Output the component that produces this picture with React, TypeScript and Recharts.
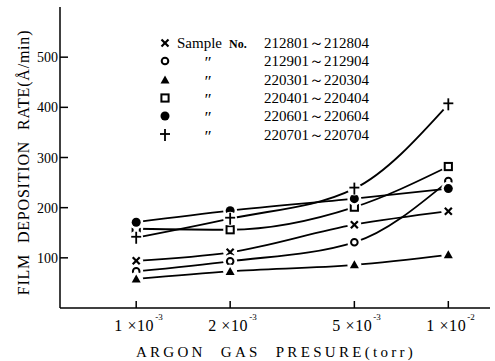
import React from 'react';
import { LineChart, Line, XAxis, YAxis, Legend, Label } from 'recharts';

const pressures = [0.001, 0.002, 0.005, 0.01];
const xTicks = [0.001, 0.002, 0.005, 0.01];
const xTickMantissa = ['1', '2', '5', '1'];
const xTickExponent = ['-3', '-3', '-3', '-2'];
const yTicks = [100, 200, 300, 400, 500];

const s212801 = [94, 111, 166, 193];
const s212901 = [73, 93, 131, 253];
const s220301 = [58, 73, 86, 106];
const s220401 = [158, 156, 201, 282];
const s220601 = [171, 194, 218, 238];
const s220701 = [140, 178, 238, 406];

const seriesKeys = ['s212801', 's212901', 's220301', 's220401', 's220601', 's220701'];
const seriesValues = [s212801, s212901, s220301, s220401, s220601, s220701];
const seriesLabels = [
  '212801～212804',
  '212901～212904',
  '220301～220304',
  '220401～220404',
  '220601～220604',
  '220701～220704',
];
const seriesMarkers = ['cross', 'circle', 'triangle', 'square', 'dot', 'plus'];

const data = pressures.map((p, i) => {
  const row: Record<string, number> = { p };
  seriesKeys.forEach((k, j) => {
    row[k] = seriesValues[j][i];
  });
  return row;
});

const FONT = "'Liberation Serif', 'Times New Roman', 'DejaVu Serif', serif";
const txt = (size: number, extra: React.CSSProperties = {}): React.CSSProperties => ({
  fontFamily: FONT,
  fontSize: size,
  fill: '#000',
  ...extra,
});

function Marker({ kind, cx, cy }: { kind: string; cx: number; cy: number }) {
  switch (kind) {
    case 'cross':
      return (
        <g stroke="#000" strokeWidth={2.2}>
          <line x1={cx - 3.5} y1={cy - 3.5} x2={cx + 3.5} y2={cy + 3.5} />
          <line x1={cx - 3.5} y1={cy + 3.5} x2={cx + 3.5} y2={cy - 3.5} />
        </g>
      );
    case 'circle':
      return <circle cx={cx} cy={cy} r={3.3} fill="#fff" stroke="#000" strokeWidth={2} />;
    case 'triangle':
      return <polygon points={`${cx},${cy - 4.5} ${cx + 4.5},${cy + 3.5} ${cx - 4.5},${cy + 3.5}`} fill="#000" />;
    case 'square':
      return <rect x={cx - 3.6} y={cy - 3.6} width={7.2} height={7.2} fill="#fff" stroke="#000" strokeWidth={2} />;
    case 'dot':
      return <circle cx={cx} cy={cy} r={4.5} fill="#000" />;
    case 'plus':
      return (
        <g stroke="#000" strokeWidth={1.8}>
          <line x1={cx} y1={cy - 6} x2={cx} y2={cy + 6} />
          <line x1={cx - 5} y1={cy - 1} x2={cx + 5} y2={cy - 1} />
        </g>
      );
    default:
      return null;
  }
}

const makeDot = (kind: string) => (props: any) => {
  const { cx, cy, index } = props;
  if (cx == null || cy == null) return <g key={`d-${kind}-${index}`} />;
  return (
    <g key={`d-${kind}-${index}`}>
      <circle cx={cx} cy={cy} r={7} fill="#fff" />
      <Marker kind={kind} cx={cx} cy={cy} />
    </g>
  );
};

function XTick(props: any) {
  const { x, y, payload, index } = props;
  const i = xTicks.indexOf(payload.value);
  const k = i >= 0 ? i : index;
  return (
    <g>
      <line x1={x} y1={y} x2={x} y2={y - 7} stroke="#000" strokeWidth={1.5} />
      <text x={x - 2} y={y + 23} textAnchor="middle" style={txt(16, { letterSpacing: 0.6 })}>
        {xTickMantissa[k]} ×10
      </text>
      <text x={x + 19} y={y + 12} style={txt(9)}>
        {xTickExponent[k]}
      </text>
    </g>
  );
}

function YTick(props: any) {
  const { x, y, payload } = props;
  return (
    <g>
      <line x1={x} y1={y} x2={x + 8} y2={y} stroke="#000" strokeWidth={1.5} />
      <text x={x - 2} y={y + 5} textAnchor="end" style={txt(14)}>
        {payload.value}
      </text>
    </g>
  );
}

function LegendContent() {
  const rowY = [13, 31, 50, 68, 86, 105];
  return (
    <svg width={240} height={115} style={{ overflow: 'visible' }}>
      {seriesLabels.map((lab, i) => (
        <g key={lab}>
          <Marker kind={seriesMarkers[i]} cx={15} cy={rowY[i]} />
          {i === 0 ? (
            <>
              <text x={27} y={rowY[i] + 5} style={txt(15)}>Sample</text>
              <text x={79} y={rowY[i] + 5} style={txt(12, { fontWeight: 'bold' })}>No.</text>
            </>
          ) : (
            <text x={57} y={rowY[i] + 7} textAnchor="middle" style={txt(17, { fontStyle: 'italic' })}>″</text>
          )}
          <text x={114} y={rowY[i] + 5} style={txt(15)}>{lab}</text>
        </g>
      ))}
    </svg>
  );
}

export default function App() {
  return (
    <div style={{ position: 'absolute', left: 0, top: 0, width: 495, height: 361, background: '#fff' }}>
      <LineChart width={495} height={361} data={data} margin={{ top: 7, right: 5, bottom: 0, left: 0 }}>
        <XAxis
          dataKey="p"
          type="number"
          scale="log"
          domain={[5.7e-4, 1.36e-2]}
          allowDataOverflow
          ticks={xTicks}
          interval={0}
          tick={<XTick />}
          tickLine={false}
          tickSize={0}
          tickMargin={0}
          height={53}
          axisLine={{ stroke: '#000', strokeWidth: 1.5 }}
        >
          <Label
            content={(p: any) => {
              const vb = p.viewBox;
              return (
                <text
                  x={vb.x + vb.width / 2 + 1}
                  y={vb.y + vb.height - 4}
                  textAnchor="middle"
                  style={txt(15, { letterSpacing: 3.3, wordSpacing: 8 })}
                >
                  ARGON GAS PRESURE(torr)
                </text>
              );
            }}
          />
        </XAxis>
        <YAxis
          type="number"
          domain={[0, 600]}
          ticks={yTicks}
          width={60}
          tick={<YTick />}
          tickLine={false}
          tickSize={0}
          tickMargin={0}
          axisLine={{ stroke: '#000', strokeWidth: 1.5 }}
        >
          <Label
            content={(p: any) => {
              const vb = p.viewBox;
              const cy = vb.y + vb.height / 2 + 5;
              return (
                <text
                  x={23}
                  y={cy}
                  transform={`rotate(-90, 23, ${cy})`}
                  textAnchor="middle"
                  dominantBaseline="central"
                  style={txt(16, { letterSpacing: 0.8, wordSpacing: 6 })}
                >
                  FILM DEPOSITION RATE(Å/min)
                </text>
              );
            }}
          />
        </YAxis>
        <Legend
          layout="horizontal"
          verticalAlign="middle"
          align="center"
          content={<LegendContent />}
          wrapperStyle={{ left: 150, top: 30, width: 240, height: 115 }}
        />
        {seriesKeys.map((k, i) => (
          <Line
            key={k}
            dataKey={k}
            type="monotone"
            stroke="#000"
            strokeWidth={1.8}
            dot={makeDot(seriesMarkers[i])}
            activeDot={false}
            isAnimationActive={false}
            legendType="none"
          />
        ))}
      </LineChart>
    </div>
  );
}
